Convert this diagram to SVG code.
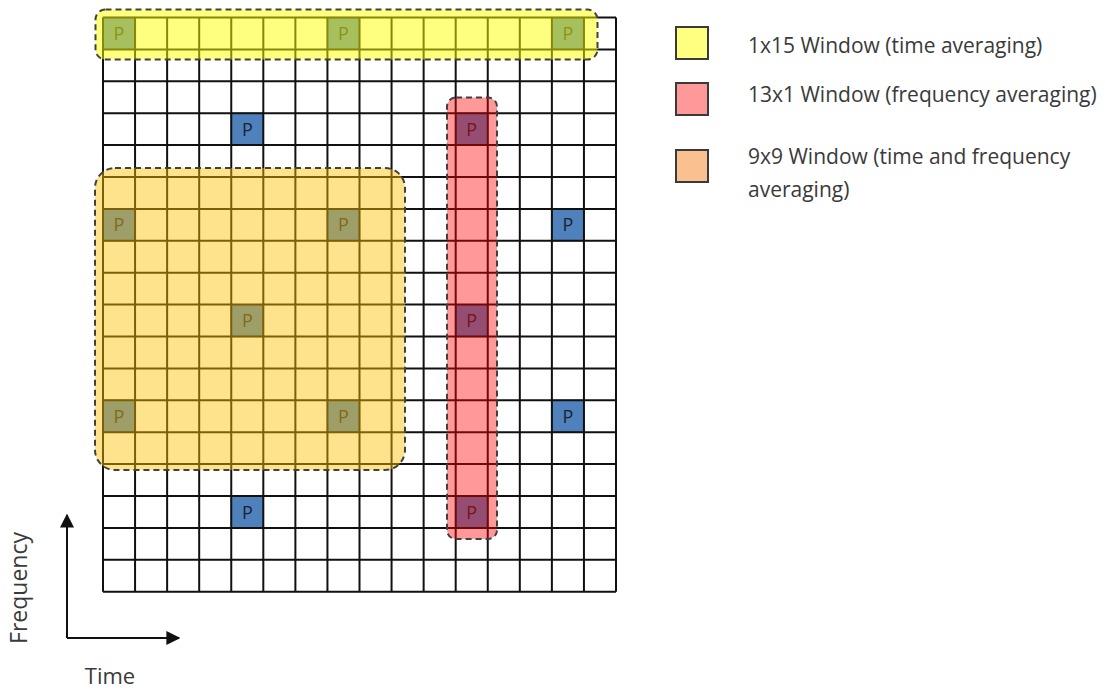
<svg xmlns="http://www.w3.org/2000/svg" width="1105" height="692" viewBox="0 0 1105 692">
<defs>
<style>
.gl{fill:none;stroke:#111;stroke-width:2}
.pc{fill:#4F81BD;stroke:#2c4a70;stroke-width:1.2}
.pt{font-family:"Open Sans","Liberation Sans",sans-serif;font-size:18px;fill:#1a2330;text-anchor:middle}
.win{stroke:#404040;stroke-width:2;stroke-dasharray:6 4}
.lg{stroke:#3a3a3a;stroke-width:2}
.lt{font-family:"Open Sans","Liberation Sans",sans-serif;font-size:21px;fill:#3a3a3a}
.ax{fill:none;stroke:#111;stroke-width:2}
</style>
<marker id="ah" viewBox="0 0 10 10" refX="9" refY="5" markerWidth="7" markerHeight="7" markerUnits="strokeWidth" orient="auto">
<path d="M0,0 L10,5 L0,10 z" fill="#111"/>
</marker>
</defs>
<rect width="1105" height="692" fill="#fff"/>

<g id="grid">
<rect x="103" y="17.5" width="513" height="574.2" fill="#fff"/>
<g id="pilots">
<rect class="pc" x="103" y="17.5" width="32.06" height="31.9"/>
<rect class="pc" x="327.44" y="17.5" width="32.06" height="31.9"/>
<rect class="pc" x="551.88" y="17.5" width="32.06" height="31.9"/>
<rect class="pc" x="231.25" y="113.2" width="32.06" height="31.9"/>
<rect class="pc" x="455.69" y="113.2" width="32.06" height="31.9"/>
<rect class="pc" x="103" y="208.9" width="32.06" height="31.9"/>
<rect class="pc" x="327.44" y="208.9" width="32.06" height="31.9"/>
<rect class="pc" x="551.88" y="208.9" width="32.06" height="31.9"/>
<rect class="pc" x="231.25" y="304.6" width="32.06" height="31.9"/>
<rect class="pc" x="455.69" y="304.6" width="32.06" height="31.9"/>
<rect class="pc" x="103" y="400.3" width="32.06" height="31.9"/>
<rect class="pc" x="327.44" y="400.3" width="32.06" height="31.9"/>
<rect class="pc" x="551.88" y="400.3" width="32.06" height="31.9"/>
<rect class="pc" x="231.25" y="496" width="32.06" height="31.9"/>
<rect class="pc" x="455.69" y="496" width="32.06" height="31.9"/>
</g>
<path class="gl" d="M103,17.5V591.7M135.06,17.5V591.7M167.13,17.5V591.7M199.19,17.5V591.7M231.25,17.5V591.7M263.31,17.5V591.7M295.38,17.5V591.7M327.44,17.5V591.7M359.5,17.5V591.7M391.56,17.5V591.7M423.63,17.5V591.7M455.69,17.5V591.7M487.75,17.5V591.7M519.81,17.5V591.7M551.88,17.5V591.7M583.94,17.5V591.7M616,17.5V591.7"/>
<path class="gl" d="M103,17.5H616M103,49.4H616M103,81.3H616M103,113.2H616M103,145.1H616M103,177H616M103,208.9H616M103,240.8H616M103,272.7H616M103,304.6H616M103,336.5H616M103,368.4H616M103,400.3H616M103,432.2H616M103,464.1H616M103,496H616M103,527.9H616M103,559.8H616M103,591.7H616"/>
<g id="pilot-labels">
<text class="pt" x="119" y="40">P</text>
<text class="pt" x="343.5" y="40">P</text>
<text class="pt" x="568" y="40">P</text>
<text class="pt" x="247.3" y="135.7">P</text>
<text class="pt" x="471.7" y="135.7">P</text>
<text class="pt" x="119" y="231.4">P</text>
<text class="pt" x="343.5" y="231.4">P</text>
<text class="pt" x="568" y="231.4">P</text>
<text class="pt" x="247.3" y="327.1">P</text>
<text class="pt" x="471.7" y="327.1">P</text>
<text class="pt" x="119" y="422.8">P</text>
<text class="pt" x="343.5" y="422.8">P</text>
<text class="pt" x="568" y="422.8">P</text>
<text class="pt" x="247.3" y="518.5">P</text>
<text class="pt" x="471.7" y="518.5">P</text>
</g>
</g>

<g id="window-1x15">
<rect class="win" x="95.5" y="9.5" width="502" height="50" rx="10" fill="#FFFF00" fill-opacity="0.5"/>
</g>
<g id="window-13x1">
<rect class="win" x="447" y="97.5" width="50" height="441.5" rx="9" fill="#FF0000" fill-opacity="0.4"/>
</g>
<g id="window-9x9">
<rect class="win" x="95" y="168" width="310" height="302" rx="20" fill="#FFC000" fill-opacity="0.45"/>
</g>

<g id="legend-1x15">
<rect class="lg" x="676" y="27" width="32" height="32" fill="#FFFF80"/>
<text class="lt" x="748" y="53">1x15 Window  (time averaging)</text>
</g>
<g id="legend-13x1">
<rect class="lg" x="676" y="83" width="32" height="32" fill="#FF9999"/>
<text class="lt" x="748" y="102">13x1 Window  (frequency averaging)</text>
</g>
<g id="legend-9x9">
<rect class="lg" x="676" y="150" width="32" height="32" fill="#FAC090"/>
<text class="lt" x="748" y="164">9x9 Window  (time and frequency</text>
<text class="lt" x="748" y="197">averaging)</text>
</g>

<g id="connectors">
<path class="ax" d="M67,638V515" marker-end="url(#ah)"/>
<path class="ax" d="M67,638H179" marker-end="url(#ah)"/>
</g>
<g id="axis-labels">
<text class="lt" style="font-size:23px" transform="translate(27,588) rotate(-90)" text-anchor="middle">Frequency</text>
<text class="lt" style="font-size:22px" x="110" y="684" text-anchor="middle">Time</text>
</g>
</svg>
